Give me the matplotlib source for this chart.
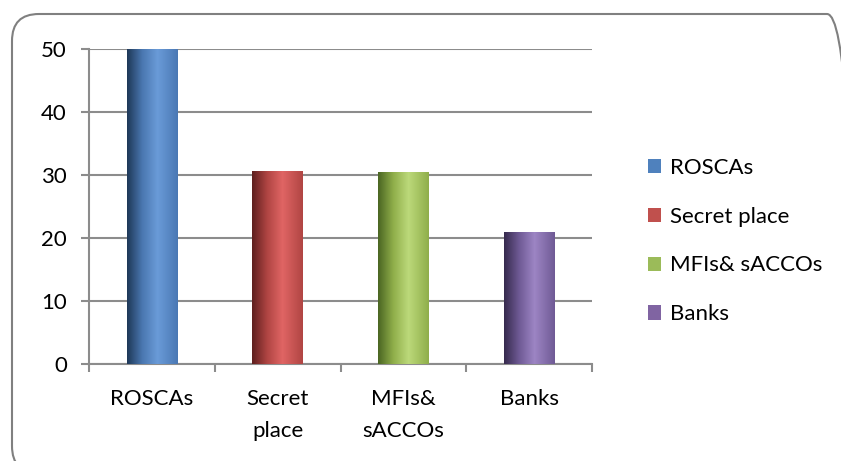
import numpy as np
import matplotlib.pyplot as plt
from matplotlib.colors import LinearSegmentedColormap
from matplotlib.patches import FancyBboxPatch, Patch

plt.rcParams["font.family"] = ["Lato", "DejaVu Sans"]

categories = ["ROSCAs", "Secret\nplace", "MFIs&\nsACCOs", "Banks"]
legend_labels = ["ROSCAs", "Secret place", "MFIs& sACCOs", "Banks"]
values = [50, 30.6, 30.5, 21]
base_colors = ["#4f81bd", "#c0504d", "#9bbb59", "#8064a2"]
gradients = [
    ["#1e3857", "#4a77b0", "#6a9bd8", "#4a78b4"],
    ["#5e1f1e", "#b04543", "#e06564", "#b04543"],
    ["#4a6522", "#8fae4a", "#bcd97a", "#8fae4a"],
    ["#362a4d", "#6f5a95", "#9d85c4", "#6f5a95"],
]

fig = plt.figure(figsize=(8.41, 4.61), dpi=100)

# rounded chart frame, running off the right and bottom edges
frame = FancyBboxPatch((12 / 841, -12 / 461), 842 / 841, 1 - 14 / 461 + 12 / 461,
                       boxstyle="round,pad=0,rounding_size=0.032",
                       transform=fig.transFigure, facecolor="none",
                       edgecolor="#808080", linewidth=1.5, mutation_aspect=841 / 461)
fig.patches.append(frame)

ax = fig.add_axes([89 / 841, 1 - 364 / 461, (592 - 89) / 841, (364 - 49) / 461])
ax.set_facecolor("none")
x = np.arange(len(values))
bars = ax.bar(x, values, width=0.4, color="none", zorder=3)

grad = np.linspace(0, 1, 256).reshape(1, -1)
for b, cols in zip(bars, gradients):
    cmap = LinearSegmentedColormap.from_list("g", list(zip([0, 0.3, 0.6, 1], cols)))
    x0, w, h = b.get_x(), b.get_width(), b.get_height()
    im = ax.imshow(grad, cmap=cmap, aspect="auto", extent=[x0, x0 + w, 0, h], zorder=3)
    im.set_clip_path(b)

ax.set_xlim(-0.5, 3.5)
ax.set_ylim(0, 50)
ax.set_yticks(range(0, 51, 10))
ax.yaxis.grid(True, color="#8c8c8c", linewidth=1.5, zorder=1)
ax.set_axisbelow(True)
for s in ["top", "right"]:
    ax.spines[s].set_visible(False)
for s in ["left", "bottom"]:
    ax.spines[s].set_color("#8c8c8c")
    ax.spines[s].set_linewidth(1.5)

ax.set_xticks([-0.5, 0.5, 1.5, 2.5, 3.5])
ax.set_xticklabels([])
ax.set_xticks(x, minor=True)
ax.set_xticklabels(categories, minor=True, fontsize=16, linespacing=1.75, va="top")
ax.tick_params(axis="x", which="major", length=6, width=1.5, color="#8c8c8c")
ax.tick_params(axis="x", which="minor", length=0, pad=18)
ax.tick_params(axis="y", length=6, width=1.5, color="#8c8c8c", labelsize=16, pad=10)

handles = [Patch(facecolor=c) for c in base_colors]
fig.legend(handles, legend_labels, loc="center left", bbox_to_anchor=(628 / 841, 1 - 241 / 461),
           frameon=False, fontsize=16, handlelength=0.6, handleheight=0.6,
           handletextpad=0.4, labelspacing=1.3)

fig.savefig("out.png", dpi=100)
